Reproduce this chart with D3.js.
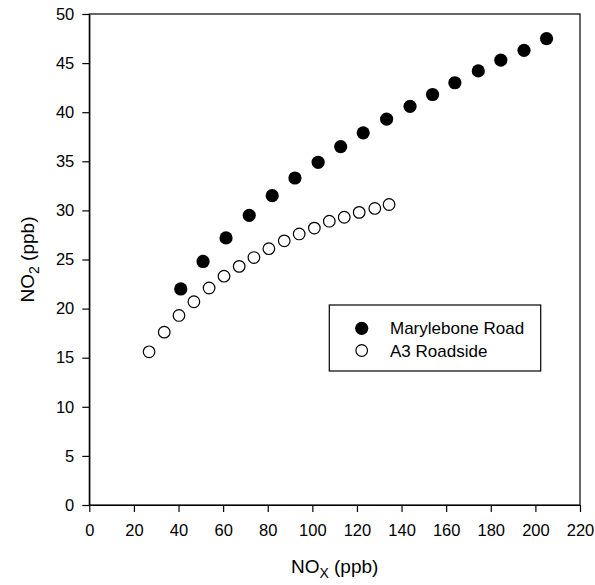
<!DOCTYPE html>
<html>
<head>
<meta charset="utf-8">
<script src="https://cdn.jsdelivr.net/npm/d3@7"></script>
<style>
  html, body { margin: 0; padding: 0; background: #fff; }
  svg { display: block; font-family: Arial, "Liberation Sans", Helvetica, sans-serif; }
</style>
</head>
<body>
<svg id="chart" width="595" height="585"></svg>
<script>
// NOx vs NO2 at two roadside sites
const maryleboneNOx = [41, 51, 61.3, 71.7, 82, 92.2, 102.6, 112.7, 122.8, 133.3, 143.8, 153.9, 163.9, 174.4, 184.5, 194.9, 205];
const maryleboneNO2 = [22.0, 24.8, 27.2, 29.5, 31.5, 33.3, 34.9, 36.5, 37.9, 39.3, 40.6, 41.8, 43.0, 44.2, 45.3, 46.3, 47.5];

const a3NOx = [26.8, 33.6, 40.2, 46.9, 53.7, 60.4, 67.2, 73.8, 80.5, 87.4, 94.1, 100.9, 107.6, 114.3, 121.0, 128.0, 134.4];
const a3NO2 = [15.6, 17.6, 19.3, 20.7, 22.1, 23.3, 24.3, 25.2, 26.1, 26.9, 27.6, 28.2, 28.9, 29.3, 29.8, 30.2, 30.6];

const xTicks = [0, 20, 40, 60, 80, 100, 120, 140, 160, 180, 200, 220];
const yTicks = [0, 5, 10, 15, 20, 25, 30, 35, 40, 45, 50];

const seriesNames = ["Marylebone Road", "A3 Roadside"];

(function draw() {
  const svg = d3.select("#chart");
  const plotLeft = 89.3, plotRight = 580, plotTop = 14, plotBottom = 505;

  const x = d3.scaleLinear().domain([0, 220]).range([plotLeft, plotRight]);
  const y = d3.scaleLinear().domain([0, 50]).range([plotBottom, plotTop]);

  // Frame around the plot area
  svg.append("rect")
    .attr("x", plotLeft).attr("y", plotTop)
    .attr("width", plotRight - plotLeft).attr("height", plotBottom - plotTop)
    .attr("fill", "none").attr("stroke", "#000").attr("stroke-width", 1.2);

  // Bottom axis
  const xAxis = svg.append("g")
    .attr("transform", `translate(0,${plotBottom})`)
    .call(d3.axisBottom(x).tickValues(xTicks).tickSize(7).tickSizeOuter(0).tickPadding(12));
  xAxis.select(".domain").attr("stroke", "#000").attr("stroke-width", 1.2);
  xAxis.selectAll(".tick line").attr("stroke", "#000").attr("stroke-width", 1.2);
  xAxis.selectAll(".tick text")
    .attr("font-size", "16.5px").attr("fill", "#000")
    .attr("font-family", "Arial, 'Liberation Sans', sans-serif");

  // Left axis
  const yAxis = svg.append("g")
    .attr("transform", `translate(${plotLeft},0)`)
    .call(d3.axisLeft(y).tickValues(yTicks).tickSize(7).tickSizeOuter(0).tickPadding(8));
  yAxis.select(".domain").attr("stroke", "#000").attr("stroke-width", 1.2);
  yAxis.selectAll(".tick line").attr("stroke", "#000").attr("stroke-width", 1.2);
  yAxis.selectAll(".tick text")
    .attr("font-size", "16.5px").attr("fill", "#000")
    .attr("font-family", "Arial, 'Liberation Sans', sans-serif");

  // Axis titles with subscripts
  const xTitle = svg.append("text")
    .attr("x", (plotLeft + plotRight) / 2).attr("y", 573)
    .attr("text-anchor", "middle").attr("font-size", "19px");
  xTitle.append("tspan").text("NO");
  xTitle.append("tspan").attr("font-size", "14px").attr("dy", 5).text("X");
  xTitle.append("tspan").attr("dy", -5).text(" (ppb)");

  const yTitle = svg.append("text")
    .attr("transform", `translate(34,${(plotTop + plotBottom) / 2}) rotate(-90)`)
    .attr("text-anchor", "middle").attr("font-size", "19px");
  yTitle.append("tspan").text("NO");
  yTitle.append("tspan").attr("font-size", "14px").attr("dy", 5).text("2");
  yTitle.append("tspan").attr("dy", -5).text(" (ppb)");

  // Data points
  const a3 = a3NOx.map((v, i) => ({ nox: v, no2: a3NO2[i] }));
  const mary = maryleboneNOx.map((v, i) => ({ nox: v, no2: maryleboneNO2[i] }));

  svg.append("g").selectAll("circle")
    .data(a3).join("circle")
    .attr("cx", d => x(d.nox)).attr("cy", d => y(d.no2))
    .attr("r", 5.8)
    .attr("fill", "#fff").attr("stroke", "#000").attr("stroke-width", 1.2);

  svg.append("g").selectAll("circle")
    .data(mary).join("circle")
    .attr("cx", d => x(d.nox)).attr("cy", d => y(d.no2))
    .attr("r", 6.6)
    .attr("fill", "#000");

  // Legend
  const legend = svg.append("g");
  legend.append("rect")
    .attr("x", 329.3).attr("y", 305)
    .attr("width", 211.4).attr("height", 66)
    .attr("fill", "#fff").attr("stroke", "#000").attr("stroke-width", 1.2);

  const rows = [
    { name: seriesNames[0], cy: 328.3, filled: true },
    { name: seriesNames[1], cy: 350.5, filled: false }
  ];
  rows.forEach(r => {
    legend.append("circle")
      .attr("cx", 361.7).attr("cy", r.cy)
      .attr("r", r.filled ? 6.6 : 5.8)
      .attr("fill", r.filled ? "#000" : "#fff")
      .attr("stroke", r.filled ? "none" : "#000")
      .attr("stroke-width", 1.2);
    legend.append("text")
      .attr("x", 390).attr("y", r.cy)
      .attr("dy", "0.36em")
      .attr("font-size", "17px")
      .text(r.name);
  });
})();
</script>
</body>
</html>
